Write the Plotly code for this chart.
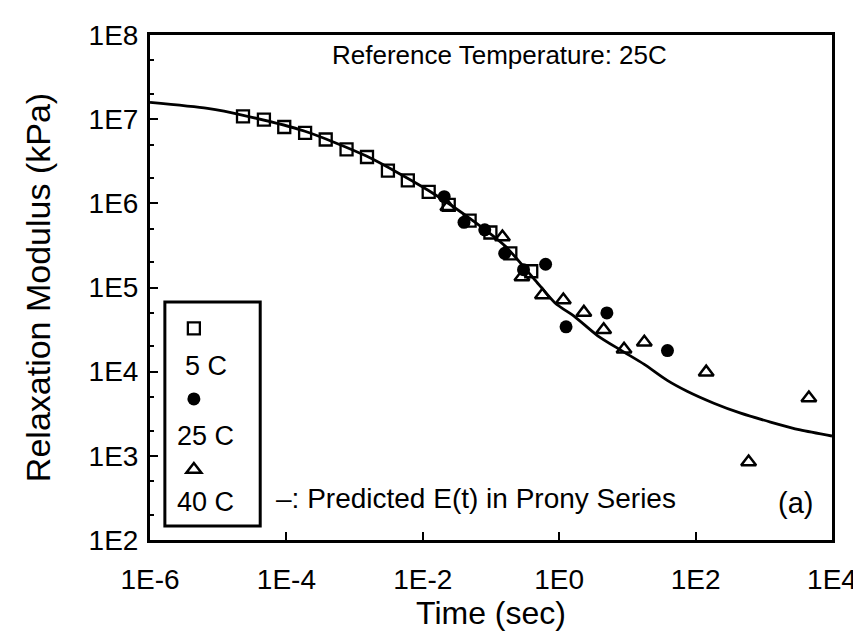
import plotly.graph_objects as go

# ---- data ----
# Predicted E(t) (Prony series) curve
curve_time = [1e-6, 6.98e-6, 2.33e-5, 1.87e-4, 1.49e-3, 1.23e-2, 5.94e-2, 0.163, 0.445,
              0.869, 1.70, 3.67, 8.20, 17.7, 38.4, 75.0, 185, 458, 1253, 3420, 1e4]
curve_E = [1.58e7, 1.34e7, 1.11e7, 7.18e6, 3.64e6, 1.41e6, 5.90e5, 3.08e5, 1.22e5,
           6.55e4, 4.48e4, 2.67e4, 1.78e4, 1.22e4, 7.87e3, 5.85e3, 4.22e3, 3.21e3,
           2.52e3, 2.03e3, 1.72e3]

# 5 C (squares)
time_5C = [2.31e-5, 4.68e-5, 9.3e-5, 1.88e-4, 3.77e-4, 7.62e-4, 1.52e-3, 3.08e-3,
           6.03e-3, 1.22e-2, 2.40e-2, 4.86e-2, 9.8e-2, 0.192, 0.389]
E_5C = [1.08e7, 9.87e6, 8.07e6, 6.86e6, 5.73e6, 4.37e6, 3.55e6, 2.45e6,
        1.87e6, 1.37e6, 9.6e5, 6.23e5, 4.5e5, 2.55e5, 1.56e5]

# 25 C (filled circles)
time_25C = [2.06e-2, 4.02e-2, 8.1e-2, 0.159, 0.30, 0.632, 1.26, 5.0, 38.7]
E_25C = [1.2e6, 5.95e5, 4.84e5, 2.55e5, 1.63e5, 1.89e5, 3.41e4, 4.99e4, 1.78e4]

# 40 C (open triangles)
time_40C = [2.33e-2, 0.147, 0.284, 0.568, 1.15, 2.30, 4.49, 8.93, 17.7, 143, 599, 4580]
E_40C = [9.1e5, 3.98e5, 1.33e5, 8.13e4, 7.1e4, 5.06e4, 3.15e4, 1.85e4, 2.23e4,
         9.87e3, 843, 4.87e3]

x_tick_vals = [1e-6, 1e-4, 1e-2, 1, 1e2, 1e4]
x_tick_text = ["1E-6", "1E-4", "1E-2", "1E0", "1E2", "1E4"]
y_tick_vals = [1e2, 1e3, 1e4, 1e5, 1e6, 1e7, 1e8]
y_tick_text = ["1E2", "1E3", "1E4", "1E5", "1E6", "1E7", "1E8"]

legend_labels = ["5 C", "25 C", "40 C"]

FONT = "Liberation Sans, Arial, Helvetica, sans-serif"
blank_name = "\u00a0<br>\u00a0"

fig = go.Figure()

fig.add_trace(go.Scatter(
    x=curve_time, y=curve_E, mode="lines",
    line=dict(color="black", width=2.8, shape="spline", smoothing=0.7),
    showlegend=False, hoverinfo="skip"))

fig.add_trace(go.Scatter(
    x=time_5C, y=E_5C, mode="markers", name=blank_name, legendrank=1,
    marker=dict(symbol="square-open", size=12, color="black", line=dict(width=2.3, color="black"))))

fig.add_trace(go.Scatter(
    x=time_40C, y=E_40C, mode="markers", name=blank_name, legendrank=3,
    marker=dict(symbol="triangle-up-open", size=13, color="black", line=dict(width=2.5, color="black"))))

fig.add_trace(go.Scatter(
    x=time_25C, y=E_25C, mode="markers", name=blank_name, legendrank=2,
    marker=dict(symbol="circle", size=13, color="black", line=dict(width=0))))

# legend box and labels
fig.add_shape(type="rect", xref="paper", yref="paper",
              x0=0.0218, x1=0.1616, y0=0.0275, y1=0.4715,
              line=dict(color="black", width=3), fillcolor="rgba(0,0,0,0)")

label_y = [0.3438, 0.2063, 0.0747]
for lab, yy in zip(legend_labels, label_y):
    fig.add_annotation(text=lab, xref="paper", yref="paper", x=0.0815, y=yy,
                       xanchor="center", yanchor="middle", showarrow=False,
                       font=dict(size=27, color="black", family=FONT))

fig.add_annotation(text="Reference Temperature: 25C", xref="paper", yref="paper",
                   x=0.264, y=0.961, xanchor="left", yanchor="middle", showarrow=False,
                   font=dict(size=26, color="black", family=FONT))
fig.add_annotation(text="\u2013: Predicted E(t) in Prony Series", xref="paper", yref="paper",
                   x=0.182, y=0.0825, xanchor="left", yanchor="middle", showarrow=False,
                   font=dict(size=28, color="black", family=FONT))
fig.add_annotation(text="(a)", xref="paper", yref="paper",
                   x=0.975, y=0.0727, xanchor="right", yanchor="middle", showarrow=False,
                   font=dict(size=29, color="black", family=FONT))

fig.update_layout(
    width=861, height=637,
    margin=dict(l=142, r=32, t=23, b=105),
    paper_bgcolor="white", plot_bgcolor="white",
    font=dict(family=FONT, color="black"),
    showlegend=True,
    legend=dict(x=0.035, y=0.499, xanchor="left", yanchor="top",
                bgcolor="rgba(0,0,0,0)", borderwidth=0,
                font=dict(size=26, family=FONT), itemwidth=30,
                tracegroupgap=0, traceorder="normal"),
)

fig.update_xaxes(
    type="log", range=[-6, 4],
    tickvals=x_tick_vals, ticktext=x_tick_text,
    ticks="inside", ticklen=8, tickwidth=2, tickcolor="black",
    showline=True, linewidth=3, linecolor="black", mirror=True,
    showgrid=False, zeroline=False,
    tickfont=dict(size=28, family=FONT, color="black"),
    ticklabelstandoff=12,
    title=dict(text="Time (sec)", font=dict(size=32, family=FONT, color="black"), standoff=4),
)
fig.update_yaxes(
    type="log", range=[2, 8],
    tickvals=y_tick_vals, ticktext=y_tick_text,
    ticks="inside", ticklen=8, tickwidth=2, tickcolor="black",
    minor=dict(ticks="inside", ticklen=4, tickwidth=1.5, tickcolor="black", showgrid=False),
    showline=True, linewidth=3, linecolor="black", mirror=True,
    showgrid=False, zeroline=False,
    tickfont=dict(size=28, family=FONT, color="black"),
    ticklabelstandoff=3,
    title=dict(text="Relaxation Modulus (kPa)", font=dict(size=34, family=FONT, color="black"), standoff=28),
)

fig.write_html("out.html")
